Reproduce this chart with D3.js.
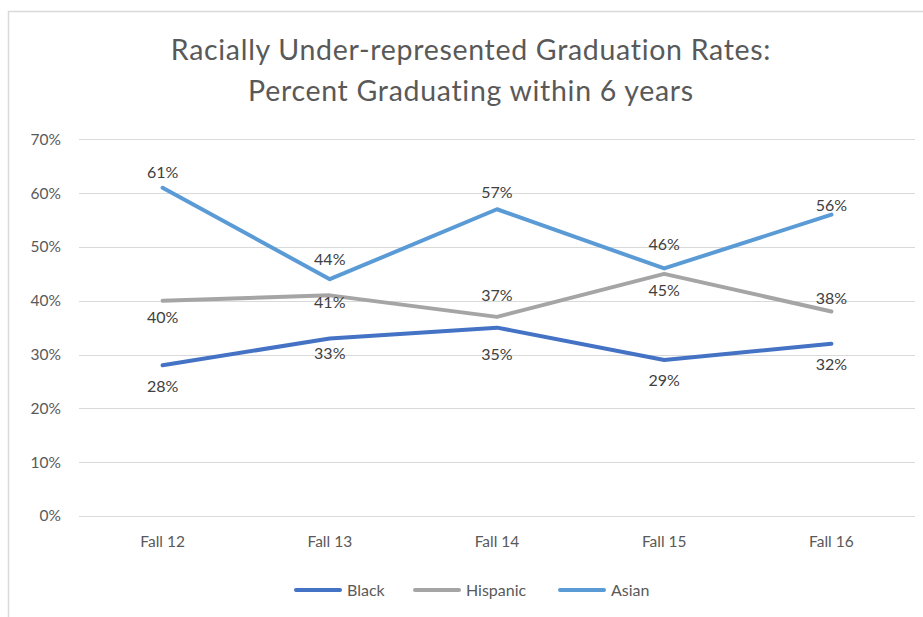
<!DOCTYPE html>
<html><head><meta charset="utf-8">
<script src="https://cdn.jsdelivr.net/npm/d3@7"></script>
<style>body{margin:0;background:#fff;}svg{display:block;font-family:Lato,"Open Sans",sans-serif;}</style>
</head><body><svg id="c" width="923" height="617"></svg>
<script>
const categories = ["Fall 12","Fall 13","Fall 14","Fall 15","Fall 16"];
const seriesNames = ["Black","Hispanic","Asian"];
const black = [0.28,0.33,0.35,0.29,0.32];
const hispanic = [0.40,0.41,0.37,0.45,0.38];
const asian = [0.61,0.44,0.57,0.46,0.56];
const yTicks = [0,0.1,0.2,0.3,0.4,0.5,0.6,0.7];
const colors = ["#4472C4","#A5A5A5","#5B9BD5"];
const titleLines = ["Racially Under-represented Graduation Rates:","Percent Graduating within 6 years"];

// label placement (vertical offset of label centre from its point, px) - layout only
const labelOffsets = [
  [21,15,26,20,20],
  [16,7,-22,16,-14],
  [-16,-20,-17,-24,-10]
];

const series = [
  {name:seriesNames[0], values:black, color:colors[0]},
  {name:seriesNames[1], values:hispanic, color:colors[1]},
  {name:seriesNames[2], values:asian, color:colors[2]}
];

const svg = d3.select("#c");
svg.append("path").attr("d","M8.5,617 V11.5 H923").attr("fill","none").attr("stroke","#d9d9d9").attr("stroke-width",1.5);

svg.append("g").selectAll("text").data(titleLines).join("text")
  .attr("x",471).attr("y",(d,i)=>60+i*41).attr("text-anchor","middle")
  .attr("font-size",28.5).attr("letter-spacing",0.7).attr("fill","#595959").text(d=>d);

const x = d3.scaleBand().domain(categories).range([79,915]);
const y = d3.scaleLinear().domain([0,0.7]).range([516,139.3]);
const cx = d => x(d)+x.bandwidth()/2;

svg.append("g").selectAll("line").data(yTicks).join("line")
  .attr("x1",79).attr("x2",915).attr("y1",d=>Math.round(y(d))+0.5).attr("y2",d=>Math.round(y(d))+0.5)
  .attr("stroke","#d9d9d9").attr("stroke-width",1);

const yAxis = svg.append("g").attr("transform","translate(79,0)")
  .call(d3.axisLeft(y).tickValues(yTicks).tickFormat(d3.format(".0%")).tickSize(0).tickPadding(18));
yAxis.select(".domain").remove();
yAxis.selectAll("text").attr("font-size",15.5).attr("fill","#595959").attr("font-family","Lato,'Open Sans',sans-serif");

const xAxis = svg.append("g").attr("transform","translate(0,516)")
  .call(d3.axisBottom(x).tickSize(0).tickPadding(20));
xAxis.select(".domain").remove();
xAxis.selectAll("text").attr("font-size",15.5).attr("fill","#595959").attr("font-family","Lato,'Open Sans',sans-serif");

const line = d3.line().x((d,i)=>cx(categories[i])).y(d=>y(d));
svg.append("g").selectAll("path").data(series).join("path")
  .attr("d",s=>line(s.values)).attr("fill","none").attr("stroke",s=>s.color)
  .attr("stroke-width",4).attr("stroke-linejoin","round").attr("stroke-linecap","round");

const fmt = d3.format(".0%");
series.forEach((s,si)=>{
  svg.append("g").selectAll("text").data(s.values).join("text")
    .attr("x",(d,i)=>cx(categories[i])).attr("y",(d,i)=> y(d)+labelOffsets[si][i]+6)
    .attr("text-anchor","middle").attr("font-size",16).attr("fill","#404040").text(d=>fmt(d));
});

const legendX = [296,415,560];
const lg = svg.append("g").selectAll("g").data(series).join("g")
  .attr("transform",(d,i)=>`translate(${legendX[i]},590)`);
lg.append("line").attr("x1",0).attr("x2",44).attr("y1",0).attr("y2",0)
  .attr("stroke",d=>d.color).attr("stroke-width",4).attr("stroke-linecap","round");
lg.append("text").attr("x",51).attr("y",6).attr("font-size",16).attr("fill","#595959").text(d=>d.name);
</script></body></html>
